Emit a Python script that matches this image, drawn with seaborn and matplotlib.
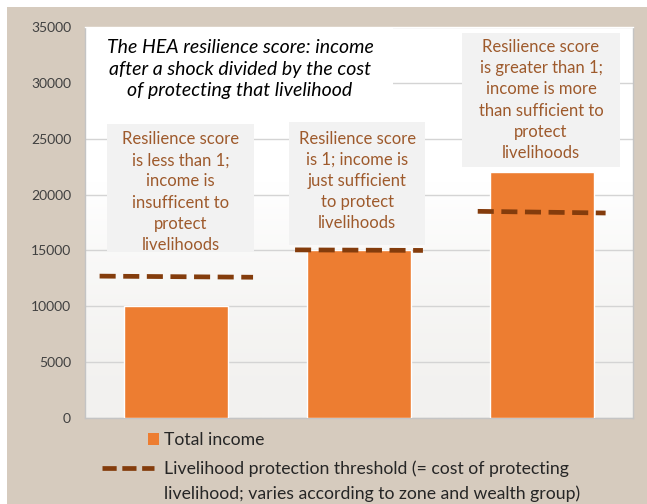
import matplotlib
matplotlib.use("Agg")
import matplotlib.pyplot as plt
from matplotlib.patches import Rectangle, Patch
from matplotlib.lines import Line2D
from matplotlib.colors import LinearSegmentedColormap
import numpy as np
import seaborn as sns
import pandas as pd

# ---- data ----
categories = ["Group 1", "Group 2", "Group 3"]
total_income = [10000, 15000, 22000]
threshold_start = [12700, 15050, 18500]
threshold_end = [12600, 15000, 18350]
yticks = [0, 5000, 10000, 15000, 20000, 25000, 30000, 35000]
title_text = "The HEA resilience score: income\nafter a shock divided by the cost\nof protecting that livelihood"
box_texts = [
    "Resilience score\nis less than 1;\nincome is\ninsufficent to\nprotect\nlivelihoods",
    "Resilience score\nis 1; income is\njust sufficient\nto protect\nlivelihoods",
    "Resilience score\nis greater than 1;\nincome is more\nthan sufficient to\nprotect\nlivelihoods",
]
legend_bar = "Total income"
legend_line = ["Livelihood protection threshold (= cost of protecting",
               "livelihood; varies according to zone and wealth group)"]

# ---- styles ----
ORANGE = "#ED7D31"
BROWN = "#843C0C"
BEIGE = "#D6CBBE"
PLOTBG = "#F2F1EF"
BOXBG = "#F2F2F2"
BOXTXT = "#9E5A2C"
TXT = "#262626"
FONT = ["Lato", "DejaVu Sans"]

sns.set_theme(style="white")
plt.rcParams["font.family"] = FONT

W, H = 647, 504
fig = plt.figure(figsize=(W / 100, H / 100), dpi=100)
fig.patch.set_facecolor("white")
fig.add_artist(Rectangle((7 / W, 0), (W - 7) / W, (H - 7) / H, transform=fig.transFigure,
                         facecolor=BEIGE, edgecolor="none", zorder=-10))

ax = fig.add_axes([85 / W, 86 / H, 548 / W, 391 / H])
ax.set_facecolor(PLOTBG)

# soft vertical gradient of the plot background (white at top)
grad = np.linspace(1, 0, 200).reshape(-1, 1)
grad = np.clip((grad - 0.0) / 0.6, 0, 1) ** 1.5
cmap = LinearSegmentedColormap.from_list("bg", [PLOTBG, "#FFFFFF"])
ax.imshow(grad, extent=(-0.5, 2.5, 0, 35000), aspect="auto", cmap=cmap, vmin=0, vmax=1,
          zorder=0.1, origin="lower" if False else "upper")

df = pd.DataFrame({"cat": categories, "income": total_income})
sns.barplot(data=df, x="cat", y="income", color=ORANGE, saturation=1, width=0.57, ax=ax, zorder=3)

ax.set_ylim(0, 35000)
ax.set_xlim(-0.5, 2.5)
ax.set_yticks(yticks)
ax.set_yticklabels([str(v) for v in yticks], fontsize=10, color="#404040")
ax.set_xticks([])
ax.set_xlabel("")
ax.set_ylabel("")
ax.tick_params(axis="y", length=0, pad=10)
ax.yaxis.grid(True, color="#D4D4D4", linewidth=1, zorder=0.5)
ax.set_axisbelow(True)
for s in ax.spines.values():
    s.set_color("#C4C4C4")
    s.set_linewidth(1)
ax.spines["top"].set_color("#FFFFFF")

# annotation boxes (data coords): x0, y0, width, height
title_box = (-0.5, 26850, 1.686, 8150)
boxes = [(-0.380, 14859, 0.805, 11458),
         (0.618, 15486, 0.745, 11000),
         (1.564, 22468, 0.865, 11995)]
text_y = [20230, 21215, 28465]
ax.add_patch(Rectangle(title_box[:2], title_box[2], title_box[3], facecolor="white",
                       edgecolor="none", zorder=1.5))
for (x0, y0, w, h), ty, txt in zip(boxes, text_y, box_texts):
    ax.add_patch(Rectangle((x0, y0), w, h, facecolor=BOXBG, edgecolor="none", zorder=1.5))
    ax.text(x0 + w / 2, ty, txt, ha="center", va="center", fontsize=12,
            color=BOXTXT, linespacing=1.4, zorder=4)

ax.text(0.349, 31240, title_text, ha="center", va="center", fontsize=14, style="italic",
        color="black", linespacing=1.33, zorder=4)

# threshold lines
half = [0.42, 0.35, 0.35]
for i, (a, b) in enumerate(zip(threshold_start, threshold_end)):
    ax.plot([i - half[i], i + half[i]], [a, b], color=BROWN, linewidth=3.4,
            dashes=(3.4, 1.6), zorder=5)

# legend
FS = 12.7
leg1 = fig.legend(handles=[Patch(facecolor=ORANGE, edgecolor="none")], labels=[legend_bar],
                  loc="center left", bbox_to_anchor=(141 / W, (H - 440) / H), frameon=False,
                  handlelength=0.62, handleheight=0.62, handletextpad=0.28, fontsize=FS,
                  borderpad=0.4, borderaxespad=0)
for t in leg1.get_texts():
    t.set_color(TXT)
leg2 = fig.legend(handles=[Line2D([], [], color=BROWN, linewidth=3.4, dashes=(3.0, 1.2))],
                  labels=[legend_line[0]], loc="center left",
                  bbox_to_anchor=(95 / W, (H - 469) / H), frameon=False,
                  handlelength=2.95, handletextpad=0.57, fontsize=FS, borderpad=0.4,
                  borderaxespad=0)
for t in leg2.get_texts():
    t.set_color(TXT)
fig.text(164 / W, (H - 494) / H, legend_line[1], ha="left", va="center", fontsize=FS,
         color=TXT)

fig.savefig("out.png", dpi=100, facecolor=fig.get_facecolor())
